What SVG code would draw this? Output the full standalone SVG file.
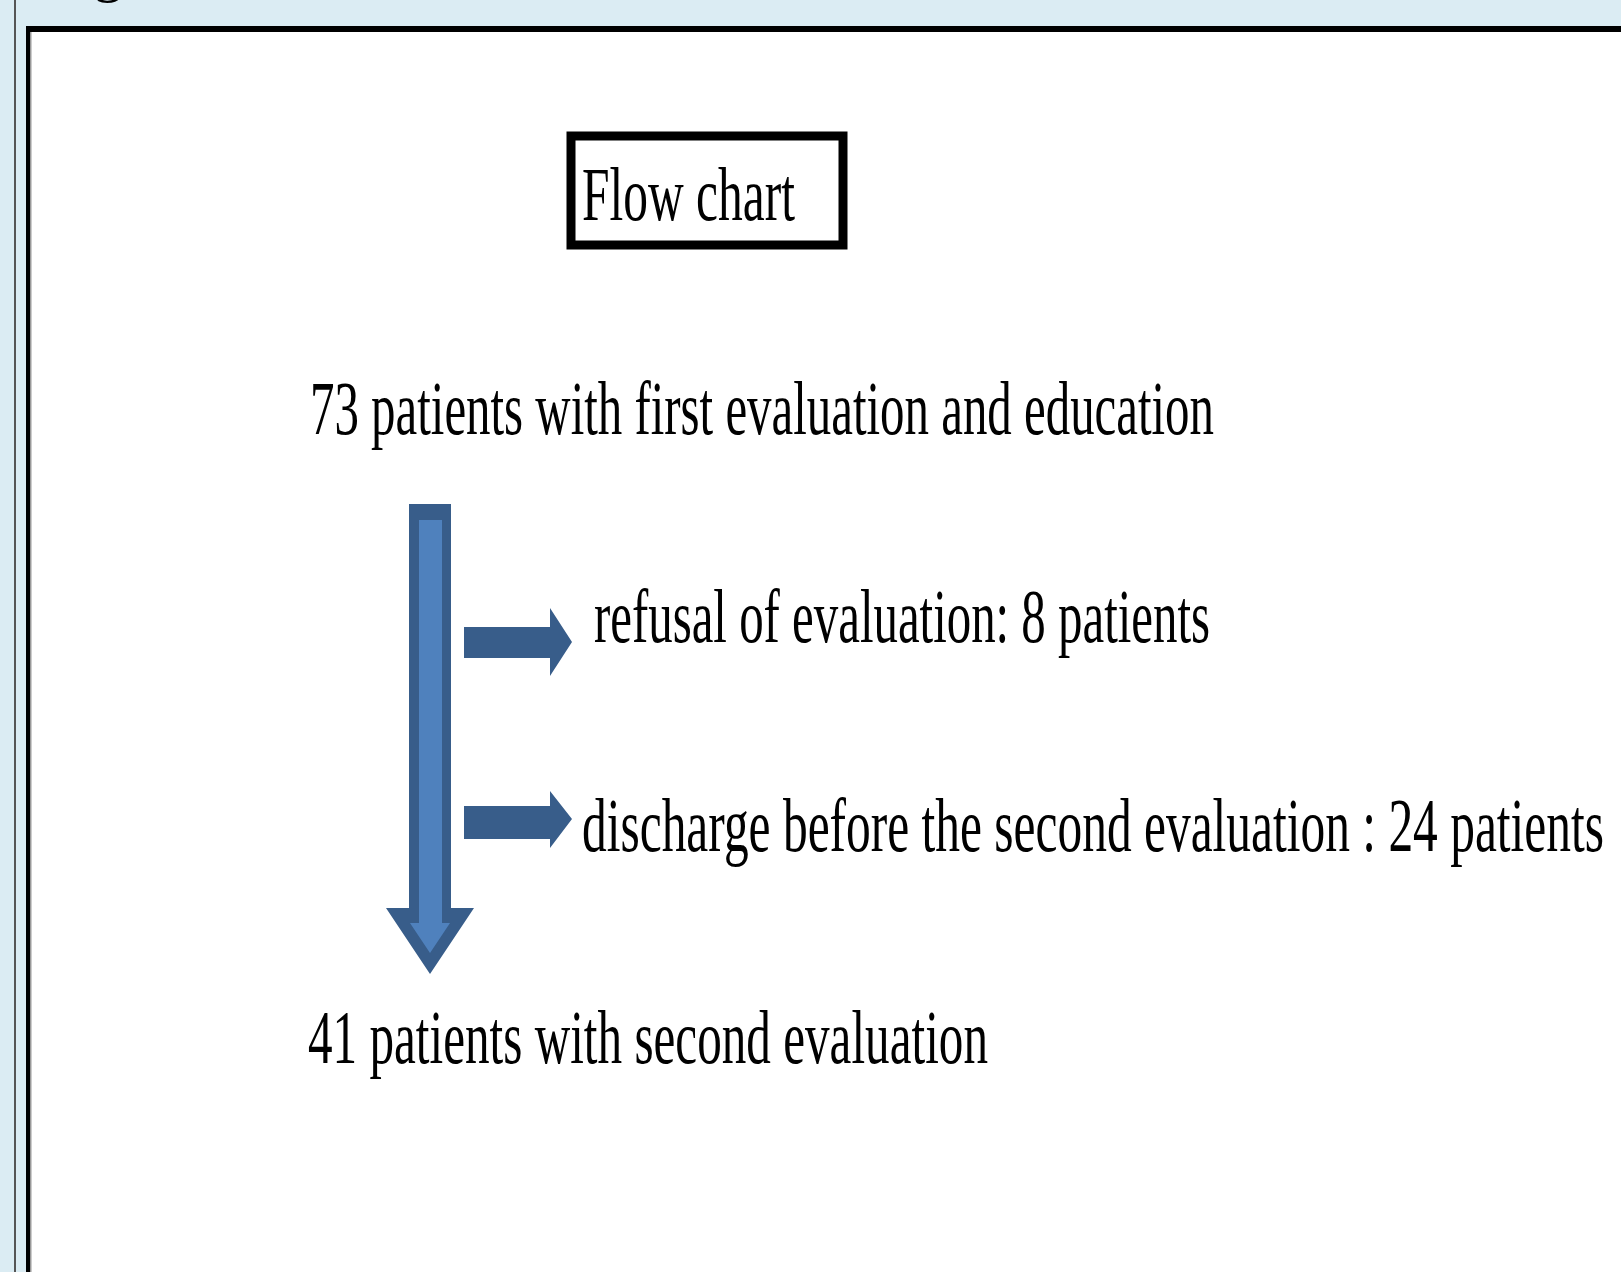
<svg xmlns="http://www.w3.org/2000/svg" width="1621" height="1272" viewBox="0 0 1621 1272">
<style>
.t{font-family:"Liberation Serif","Times New Roman",serif;font-size:49px;fill:#000}
.dark{fill:#385D8A}
.light{fill:#4F81BD}
</style>
<rect x="0" y="0" width="1621" height="1272" fill="#DBECF3"/>
<text x="93" y="-10" style="font-family:'Liberation Serif',serif;font-size:60px;fill:#000">g</text>
<line x1="15" y1="0" x2="15" y2="1272" stroke="#555" stroke-width="2"/>
<rect x="26" y="26" width="1700" height="1400" fill="#FFFFFF"/>
<rect x="26" y="26" width="1700" height="6" fill="#000"/>
<rect x="26" y="26" width="4" height="1300" fill="#000"/>
<rect x="30" y="32" width="1.5" height="1300" fill="#999"/>
<g id="title">
<rect x="571" y="136" width="272" height="109" fill="#fff" stroke="#000" stroke-width="9"/>
<text class="t" transform="translate(582,220) scale(1,1.551)" textLength="213" lengthAdjust="spacingAndGlyphs">Flow chart</text>
</g>
<g id="start">
<text class="t" transform="translate(310,434) scale(1,1.551)" textLength="904" lengthAdjust="spacingAndGlyphs">73 patients with first evaluation and education</text>
</g>
<g id="refusal">
<text class="t" transform="translate(594,642) scale(1,1.551)" textLength="616" lengthAdjust="spacingAndGlyphs">refusal of evaluation: 8 patients</text>
</g>
<g id="discharge">
<text class="t" transform="translate(582,851) scale(1,1.551)" textLength="1022" lengthAdjust="spacingAndGlyphs">discharge before the second evaluation : 24 patients</text>
</g>
<g id="end">
<text class="t" transform="translate(308,1063) scale(1,1.551)" textLength="680" lengthAdjust="spacingAndGlyphs">41 patients with second evaluation</text>
</g>
<g id="connectors">
<polygon class="dark" points="409,504 451,504 451,908 474,908 430,974 386,908 409,908"/>
<polygon class="light" points="419,520 442,520 442,923 450,923 430,953 410,923 419,923"/>
<polygon class="dark" points="464,627 550,627 550,608 572,642 550,676 550,658 464,658"/>
<polygon class="dark" points="464,806 550,806 550,791 572,819 550,848 550,839 464,839"/>
</g>
</svg>
